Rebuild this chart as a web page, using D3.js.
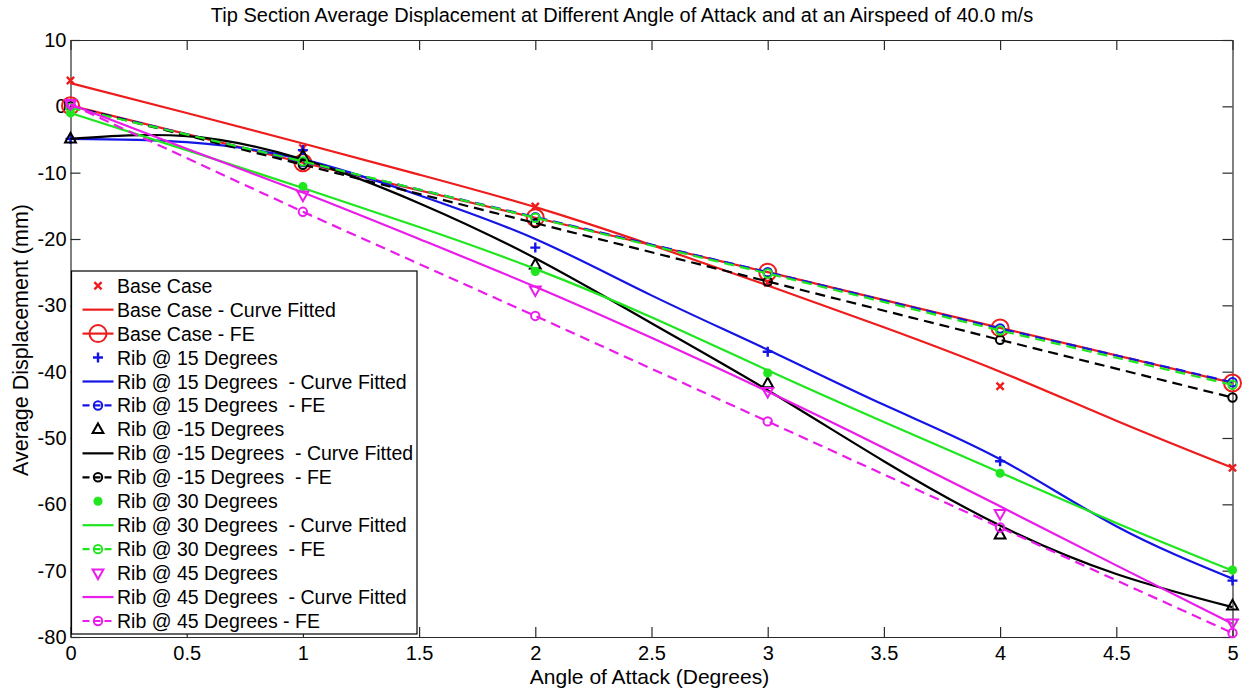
<!DOCTYPE html>
<html>
<head>
<meta charset="utf-8">
<script src="https://cdn.jsdelivr.net/npm/d3@7"></script>
<style>
  html, body { margin: 0; padding: 0; background: #fff; }
  svg { display: block; font-family: "Liberation Sans", Arial, sans-serif; }
  text { white-space: pre; }
</style>
</head>
<body>
<svg id="chart" width="1244" height="690"></svg>
<script>
// Angle of attack (degrees) at which the tip displacement was measured / computed
const angles = [0, 1, 2, 3, 4, 5];
// Sample angles of the fitted curves
const fitAngles = [0, 0.5, 1, 1.5, 2, 2.5, 3, 3.5, 4, 4.5, 5];

// Tip section average displacement (mm)
const baseCase     = [3.9, -6.3, -15.1, -26.6, -42.2, -54.5];
const baseCaseFit  = [3.5, -1.0, -5.6, -10.3, -15.2, -20.9, -27.0, -33.3, -40.0, -47.4, -54.5];
const baseCaseFE   = [0.1, -8.5, -16.8, -25.0, -33.4, -41.7];

const rib15        = [-4.9, -6.6, -21.3, -37.0, -53.5, -71.5];
const rib15Fit     = [-4.9, -5.4, -8.0, -13.4, -20.0, -28.5, -36.7, -45.0, -53.2, -63.3, -71.2];
const rib15FE      = [0.0, -8.4, -16.7, -25.0, -33.5, -41.6];

const ribM15       = [-4.9, -7.5, -23.9, -41.8, -64.6, -75.3];
const ribM15Fit    = [-4.9, -4.5, -8.0, -14.6, -22.9, -32.7, -42.8, -53.5, -63.2, -70.5, -75.5];
const ribM15FE     = [0.0, -8.8, -17.6, -26.4, -35.2, -43.9];

const rib30        = [-1.0, -12.1, -24.9, -40.2, -55.3, -69.9];
const rib30Fit     = [-1.0, -6.6, -12.3, -18.2, -24.5, -31.8, -39.8, -47.6, -55.2, -62.8, -70.0];
const rib30FE      = [-0.2, -8.3, -16.8, -25.2, -33.8, -42.0];

const rib45        = [0.4, -13.4, -27.7, -43.0, -61.4, -77.9];
const rib45Fit     = [0.3, -6.4, -13.0, -20.0, -27.2, -34.9, -43.0, -51.5, -60.3, -69.2, -78.0];
const rib45FE      = [0.3, -15.9, -31.6, -47.5, -63.5, -79.4];

// Axis ticks
const xTicks = [0, 0.5, 1, 1.5, 2, 2.5, 3, 3.5, 4, 4.5, 5];
const xTickLabels = ["0", "0.5", "1", "1.5", "2", "2.5", "3", "3.5", "4", "4.5", "5"];
const yTicks = [10, 0, -10, -20, -30, -40, -50, -60, -70, -80];
const yTickLabels = ["10", "0", "-10", "-20", "-30", "-40", "-50", "-60", "-70", "-80"];

const titleText = "Tip Section Average Displacement at Different Angle of Attack and at an Airspeed of 40.0 m/s";
const xLabel = "Angle of Attack (Degrees)";
const yLabel = "Average Displacement (mm)";

const RED = "#ee1c1c", BLUE = "#1414e6", BLACK = "#000000", GREEN = "#1fe61f", MAGENTA = "#ea1cea";

// Plot series, in drawing order (later ones on top)
const series = [
  { label: "Base Case", x: angles, y: baseCase, color: RED, line: null, marker: "x" },
  { label: "Base Case - Curve Fitted", x: fitAngles, y: baseCaseFit, color: RED, line: "fit", marker: null },
  { label: "Base Case - FE", x: angles, y: baseCaseFE, color: RED, line: "solid", marker: "bigcircle" },
  { label: "Rib @ 15 Degrees", x: angles, y: rib15, color: BLUE, line: null, marker: "plus" },
  { label: "Rib @ 15 Degrees  - Curve Fitted", x: fitAngles, y: rib15Fit, color: BLUE, line: "fit", marker: null },
  { label: "Rib @ 15 Degrees  - FE", x: angles, y: rib15FE, color: BLUE, line: "dash", marker: "circle" },
  { label: "Rib @ -15 Degrees", x: angles, y: ribM15, color: BLACK, line: null, marker: "triup" },
  { label: "Rib @ -15 Degrees  - Curve Fitted", x: fitAngles, y: ribM15Fit, color: BLACK, line: "fit", marker: null },
  { label: "Rib @ -15 Degrees  - FE", x: angles, y: ribM15FE, color: BLACK, line: "dash", marker: "circle" },
  { label: "Rib @ 30 Degrees", x: angles, y: rib30, color: GREEN, line: null, marker: "star" },
  { label: "Rib @ 30 Degrees  - Curve Fitted", x: fitAngles, y: rib30Fit, color: GREEN, line: "fit", marker: null },
  { label: "Rib @ 30 Degrees  - FE", x: angles, y: rib30FE, color: GREEN, line: "dash", marker: "circle" },
  { label: "Rib @ 45 Degrees", x: angles, y: rib45, color: MAGENTA, line: null, marker: "tridown" },
  { label: "Rib @ 45 Degrees  - Curve Fitted", x: fitAngles, y: rib45Fit, color: MAGENTA, line: "fit", marker: null },
  { label: "Rib @ 45 Degrees - FE", x: angles, y: rib45FE, color: MAGENTA, line: "dash", marker: "circle" }
];

const svg = d3.select("#chart");
const plot = { left: 70.5, right: 1232.5, top: 40, bottom: 637 };

const x = d3.scaleLinear().domain([0, 5]).range([plot.left, plot.right]);
const y = d3.scaleLinear().domain([-80, 10]).range([plot.bottom, plot.top]);

// Marker shapes as path strings centred on the origin
function markerPath(kind) {
  switch (kind) {
    case "x": { const s = 3.6; return `M${-s},${-s}L${s},${s}M${-s},${s}L${s},${-s}`; }
    case "plus": { const s = 5; return `M${-s},0L${s},0M0,${-s}L0,${s}`; }
    case "star": { const s = 4.5, d = 3.2; return `M${-s},0L${s},0M0,${-s}L0,${s}M${-d},${-d}L${d},${d}M${-d},${d}L${d},${-d}`; }
    case "triup": { const s = 6; return `M0,${-s}L${s * 0.9},${s * 0.6}L${-s * 0.9},${s * 0.6}Z`; }
    case "tridown": { const s = 6; return `M0,${s}L${s * 0.9},${-s * 0.6}L${-s * 0.9},${-s * 0.6}Z`; }
    case "circle": { const r = 4.2; return `M${r},0A${r},${r} 0 1,1 ${-r},0A${r},${r} 0 1,1 ${r},0Z`; }
    case "bigcircle": { const r = 8.5; return `M${r},0A${r},${r} 0 1,1 ${-r},0A${r},${r} 0 1,1 ${r},0Z`; }
  }
  return "";
}
function markerWidth(kind) {
  return kind === "star" ? 3 : kind === "x" ? 2.4 : kind === "plus" ? 2.4 : 2;
}

const lineStraight = d3.line().x(d => x(d[0])).y(d => y(d[1]));
const lineFit = d3.line().x(d => x(d[0])).y(d => y(d[1])).curve(d3.curveNatural);

// Axes box with inward ticks on all four sides
const axisColor = "#2a2a2a";
const gx = svg.append("g").attr("transform", `translate(0,${plot.bottom})`)
  .call(d3.axisBottom(x).tickValues(xTicks).tickFormat((d, i) => xTickLabels[i]).tickSizeInner(-10).tickSizeOuter(0).tickPadding(9));
const gxt = svg.append("g").attr("transform", `translate(0,${plot.top})`)
  .call(d3.axisTop(x).tickValues(xTicks).tickFormat("").tickSizeInner(-10).tickSizeOuter(0));
const gy = svg.append("g").attr("transform", `translate(${plot.left},0)`)
  .call(d3.axisLeft(y).tickValues(yTicks).tickFormat((d, i) => yTickLabels[i]).tickSizeInner(-10).tickSizeOuter(0).tickPadding(4));
const gyr = svg.append("g").attr("transform", `translate(${plot.right},0)`)
  .call(d3.axisRight(y).tickValues(yTicks).tickFormat("").tickSizeInner(-10).tickSizeOuter(0));
[gx, gxt, gy, gyr].forEach(g => {
  g.select(".domain").attr("stroke", axisColor).attr("stroke-width", 1.2);
  g.selectAll(".tick line").attr("stroke", axisColor).attr("stroke-width", 1.2);
  g.selectAll("text").attr("fill", "#000").attr("font-size", 20).attr("font-family", '"Liberation Sans", Arial, sans-serif');
});

// Data
const gData = svg.append("g");
series.forEach(s => {
  const pts = s.x.map((v, i) => [v, s.y[i]]);
  if (s.line) {
    gData.append("path")
      .datum(pts)
      .attr("d", s.line === "fit" ? lineFit : lineStraight)
      .attr("fill", "none")
      .attr("stroke", s.color)
      .attr("stroke-width", 2.2)
      .attr("stroke-dasharray", s.line === "dash" ? "10,6" : null);
  }
  if (s.marker) {
    gData.selectAll(null).data(pts).enter().append("path")
      .attr("transform", d => `translate(${x(d[0])},${y(d[1])})`)
      .attr("d", markerPath(s.marker))
      .attr("fill", "none")
      .attr("stroke", s.color)
      .attr("stroke-width", markerWidth(s.marker));
  }
});

// Title and axis labels
svg.append("text").attr("x", 622).attr("y", 22).attr("text-anchor", "middle")
  .attr("font-size", 20).text(titleText);
svg.append("text").attr("x", (plot.left + plot.right) / 2 - 2).attr("y", 683.5).attr("text-anchor", "middle")
  .attr("font-size", 21).text(xLabel);
svg.append("text").attr("transform", `translate(27.5,340) rotate(-90)`).attr("text-anchor", "middle")
  .attr("font-size", 21.5).text(yLabel);

// Legend
const legend = { left: 71.5, top: 271, right: 417, bottom: 634, row0: 285.7, rowStep: 23.95 };
const gl = svg.append("g");
gl.append("rect").attr("x", legend.left).attr("y", legend.top)
  .attr("width", legend.right - legend.left).attr("height", legend.bottom - legend.top)
  .attr("fill", "#fff").attr("stroke", "#000").attr("stroke-width", 1.2);
series.forEach((s, i) => {
  const cy = legend.row0 + i * legend.rowStep;
  if (s.line) {
    gl.append("line").attr("x1", 82.5).attr("x2", 113.5).attr("y1", cy).attr("y2", cy)
      .attr("stroke", s.color).attr("stroke-width", 2.2)
      .attr("stroke-dasharray", s.line === "dash" ? "7,4" : null);
  }
  if (s.marker) {
    gl.append("path").attr("transform", `translate(98,${cy})`)
      .attr("d", markerPath(s.marker)).attr("fill", "none")
      .attr("stroke", s.color).attr("stroke-width", markerWidth(s.marker));
  }
  gl.append("text").attr("x", 117).attr("y", cy).attr("dy", "0.36em")
    .attr("font-size", 19.5).text(s.label);
});
</script>
</body>
</html>
